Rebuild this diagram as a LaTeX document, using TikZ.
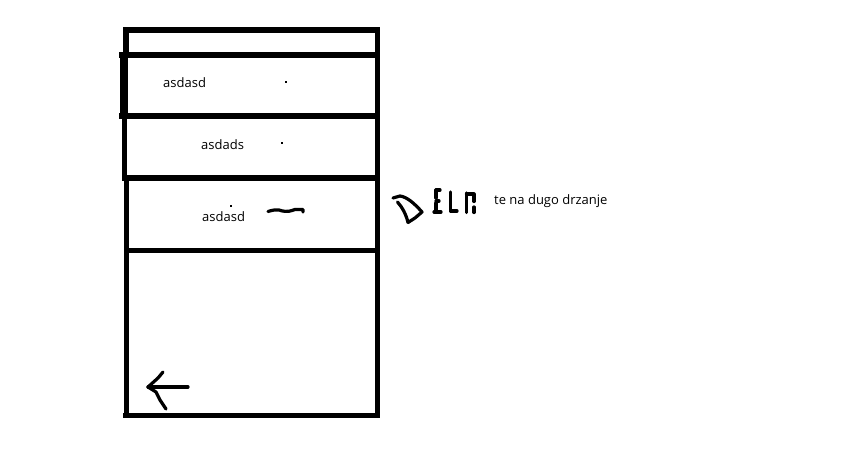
\documentclass[tikz,border=0pt]{standalone}
\usepackage{fontspec}
\setmainfont{Open Sans}
\tikzset{
  boxline/.style={line width=5.5pt, line cap=rect},
  pen/.style={line width=3.2pt, line cap=round, line join=round},
  lbl/.style={inner sep=0pt, anchor=base west, font=\fontsize{13pt}{15pt}\selectfont},
  dotmark/.style={fill=black, inner sep=0pt, minimum size=2pt, shape=rectangle}
}
\begin{document}
\begin{tikzpicture}[x=1pt,y=-1pt]
\useasboundingbox (0,0) rectangle (860,460);
% outer frame
\draw[boxline] (126,30) -- (377.5,30) -- (377.5,415.5) -- (126,415.5);
\draw[boxline] (126,30) -- (126,55);
\draw[line width=8pt] (124,53) -- (124,118);
\draw[boxline] (124.5,116) -- (124.5,178);
\draw[boxline] (126.5,178) -- (126.5,415.5);
% section dividers
\draw[boxline] (122,55) -- (377.5,55);
\draw[boxline] (122,116) -- (377.5,116);
\draw[boxline] (124.5,178) -- (377.5,178);
\draw[boxline] (126.5,250.5) -- (377.5,250.5);
% labels
\node[lbl] (t1) at (163,88) {asdasd};
\node[lbl] (t2) at (201,149) {asdads};
\node[lbl] (t3) at (202,221) {asdasd};
\node[lbl] (t4) at (494,204) {te na dugo drzanje};
% dots
\node[dotmark] (d1) at (286,82) {};
\node[dotmark] (d2) at (282,143) {};
\node[dotmark] (d3) at (231,206) {};
% squiggle
\draw[pen] (268,211.5) .. controls (273,210) and (276,209.5) .. (279,210)
  .. controls (283,211.5) and (288,212) .. (292,210.5) -- (295,209.5) -- (303,209.5) -- (303,212);
% DELE
\draw[pen] (393,198) -- (400,196) .. controls (407,197) and (414,203) .. (422,212)
  -- (415,218) -- (408,222.5);
\draw[pen] (397.5,202) .. controls (402,207) and (406,214) .. (408,222.5);
\draw[pen] (436,190) -- (436,198);
\draw[pen] (436,203) -- (436,212);
\draw[pen] (436,190) -- (440,190);
\draw[pen] (436,201) -- (439,201);
\draw[pen] (434,212) -- (441,212);
\draw[pen] (450.5,192) -- (450.5,211) -- (457,211);
\draw[pen] (466.5,193) -- (466.5,212.5);
\draw[pen] (466.5,194) -- (474,194) -- (474,201.5);
\draw[pen] (474,207) -- (474,212.5);
% arrow
\draw[pen] (148,387) -- (188,387);
\draw[pen] (163,372) -- (158,378) -- (148,387) -- (156,392) -- (160,400) -- (166,409);
\end{tikzpicture}
\end{document}
